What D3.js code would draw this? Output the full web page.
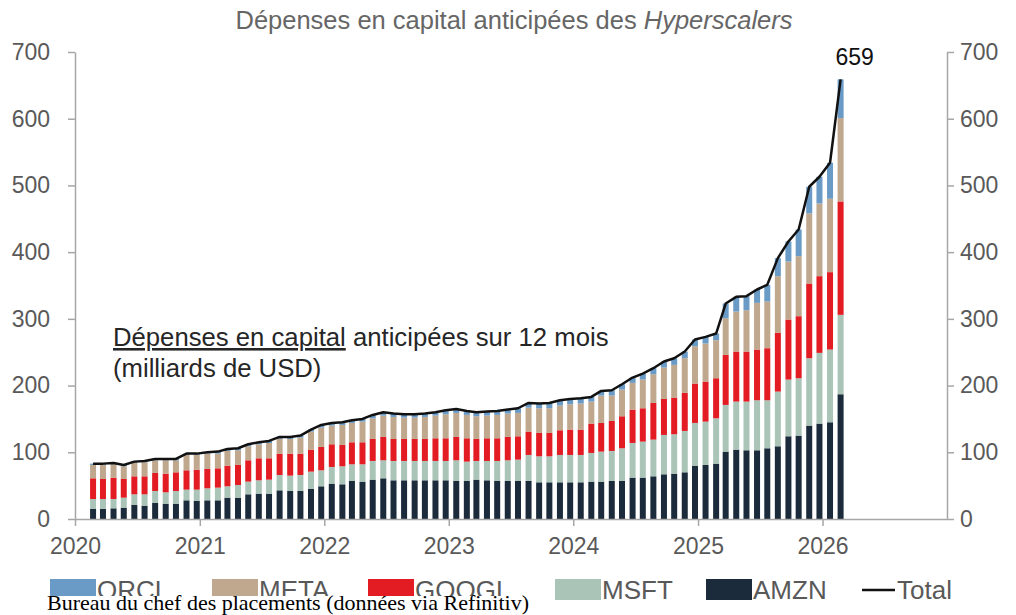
<!DOCTYPE html>
<html>
<head>
<meta charset="utf-8">
<script src="https://cdn.jsdelivr.net/npm/d3@7"></script>
<style>
  body { margin: 0; background: #fff; }
  svg text { font-family: "Liberation Sans", Arial, sans-serif; }
</style>
</head>
<body>
<svg id="chart" width="1016" height="615"></svg>
<script>
// monthly bars, Feb 2020 -> Feb 2026
const months = d3.timeMonth.range(new Date(2020, 1, 1), new Date(2026, 2, 1));

// forward 12m capex, bn USD
const amzn  = [15,15,16,17,21,20,24,23,23,28,27,28,28,32,32,37,38,38,43,42,42,45,49,53,52,57,56,59,61,58,58,58,58,58,58,57,57,59,58,57,57,57,57,55,55,55,55,55,56,56,57,57,62,62,64,67,68,70,80,81,83,101,104,103,103,106,109,124,125,140,143,145,187];
const msft  = [15,15,14,15,16,17,18,17,19,16,17,18,19,17,19,19,20,21,23,23,24,26,24,25,27,25,26,28,27,29,29,29,29,29,29,31,29,28,29,30,31,32,39,39,39,41,41,41,43,45,45,49,52,54,55,59,59,62,64,65,68,70,72,73,75,72,82,85,86,101,106,109,119];
const googl = [31,30,32,28,27,27,27,28,28,29,30,29,29,31,30,32,33,32,32,33,32,33,35,34,32,33,33,33,35,33,33,33,33,34,34,35,35,33,34,34,35,35,35,35,35,37,38,38,44,43,45,48,50,50,55,54,55,57,59,60,60,75,75,75,76,78,88,90,93,112,115,116,170];
const meta  = [20,21,20,19,20,21,19,20,18,23,22,23,22,22,22,21,21,23,22,22,24,27,29,28,30,29,31,31,32,33,32,32,33,34,36,36,35,34,34,35,35,35,36,37,37,37,38,39,33,41,38,40,40,43,43,47,49,52,56,57,57,55,60,62,70,70,85,87,90,105,109,110,125];
const orcl  = [2,2,2,2,2,2,2,2,2,2,2,2,3,3,3,3,3,3,3,3,3,3,4,4,4,4,4,5,5,5,5,5,5,5,6,6,6,6,6,6,6,7,7,7,8,8,8,8,7,7,8,8,8,9,9,9,10,10,10,10,10,22,22,21,20,25,27,30,40,40,40,54,58];

const keys = ["AMZN", "MSFT", "GOOGL", "META", "ORCL"];
const colors = { ORCL: "#6a9bc6", META: "#bfa88e", GOOGL: "#e31b23", MSFT: "#aac4b8", AMZN: "#1b2b3b" };
const yTicks = [0, 100, 200, 300, 400, 500, 600, 700];
const yearTicks = [2020, 2021, 2022, 2023, 2024, 2025, 2026];

const rows = months.map((m, i) => ({
  date: m, AMZN: amzn[i], MSFT: msft[i], GOOGL: googl[i], META: meta[i], ORCL: orcl[i]
}));
rows.forEach(d => d.total = keys.reduce((s, k) => s + d[k], 0));

const svg = d3.select("#chart");
const textCol = "#595959", axisCol = "#a6a6a6";

const x = d3.scaleTime().domain([new Date(2020, 0, 1), new Date(2027, 0, 1)]).range([75, 947]);
const y = d3.scaleLinear().domain([0, 700]).range([519, 52]);
const barX = d => x(new Date(d.date.getFullYear(), d.date.getMonth(), 23));
const bw = 6;

// title
svg.append("text")
  .attr("x", 514).attr("y", 29)
  .attr("text-anchor", "middle")
  .style("font-size", "25.5px").style("fill", "#666")
  .call(t => {
    t.append("tspan").text("Dépenses en capital anticipées des ");
    t.append("tspan").style("font-style", "italic").text("Hyperscalers");
  });

// stacked bars
const series = d3.stack().keys(keys)(rows);
svg.append("g").selectAll("g")
  .data(series).enter().append("g")
    .attr("fill", s => colors[s.key])
  .selectAll("rect")
  .data(s => s).enter().append("rect")
    .attr("x", d => barX(d.data) - bw / 2)
    .attr("width", bw)
    .attr("y", d => y(d[1]))
    .attr("height", d => y(d[0]) - y(d[1]));

// total line
svg.append("path")
  .datum(rows)
  .attr("fill", "none")
  .attr("stroke", "#111")
  .attr("stroke-width", 2.5)
  .attr("stroke-linejoin", "round")
  .attr("d", d3.line().x(barX).y(d => y(d.total)));

const last = rows[rows.length - 1];
svg.append("text")
  .attr("x", barX(last) + 14).attr("y", y(last.total) - 14)
  .attr("text-anchor", "middle")
  .style("font-size", "23px").style("fill", "#111")
  .text(last.total);

// axes
function styleAxis(g) {
  g.select(".domain").attr("stroke", axisCol).attr("stroke-width", 1.5);
  g.selectAll(".tick line").attr("stroke", axisCol).attr("stroke-width", 1.5);
  g.selectAll(".tick text").style("font-size", "23px").style("fill", textCol).attr("font-family", null);
}

svg.append("g")
  .attr("transform", "translate(75,0)")
  .call(d3.axisLeft(y).tickValues(yTicks).tickSize(7).tickPadding(18).tickSizeOuter(0))
  .call(styleAxis);

svg.append("g")
  .attr("transform", "translate(947,0)")
  .call(d3.axisRight(y).tickValues(yTicks).tickSize(7).tickPadding(6).tickSizeOuter(0))
  .call(styleAxis);

svg.append("g")
  .attr("transform", "translate(0,519)")
  .call(d3.axisBottom(x).tickValues(yearTicks.map(yr => new Date(yr, 0, 1)))
    .tickFormat(d3.timeFormat("%Y")).tickSize(7).tickPadding(12).tickSizeOuter(0))
  .call(styleAxis);

// annotation
const note = svg.append("text")
  .attr("x", 113).attr("y", 346)
  .style("font-size", "25.7px").style("fill", "#262626");
note.append("tspan").style("text-decoration", "underline").text("Dépenses en capital");
note.append("tspan").text(" anticipées sur 12 mois");
svg.append("text")
  .attr("x", 113).attr("y", 377)
  .style("font-size", "25.7px").style("fill", "#262626")
  .text("(milliards de USD)");

// legend
const legendItems = [
  { key: "ORCL", x: 50 }, { key: "META", x: 212 }, { key: "GOOGL", x: 368 },
  { key: "MSFT", x: 555 }, { key: "AMZN", x: 706 }
];
const lg = svg.append("g");
legendItems.forEach(it => {
  lg.append("rect").attr("x", it.x).attr("y", 579).attr("width", 46).attr("height", 21)
    .attr("fill", colors[it.key]);
  lg.append("text").attr("x", it.x + 47).attr("y", 599)
    .style("font-size", "26px").style("fill", textCol).text(it.key);
});
lg.append("line").attr("x1", 862).attr("x2", 895).attr("y1", 590).attr("y2", 590)
  .attr("stroke", "#111").attr("stroke-width", 2.5);
lg.append("text").attr("x", 897).attr("y", 599)
  .style("font-size", "26px").style("fill", textCol).text("Total");

// source line
svg.append("rect").attr("x", 44).attr("y", 596).attr("width", 500).attr("height", 19).attr("fill", "#fff");
svg.append("text")
  .attr("x", 47).attr("y", 610)
  .style("font-family", "'Liberation Serif', 'DejaVu Serif', serif")
  .style("font-size", "22px").style("fill", "#000")
  .text("Bureau du chef des placements (données via Refinitiv)");
</script>
</body>
</html>
